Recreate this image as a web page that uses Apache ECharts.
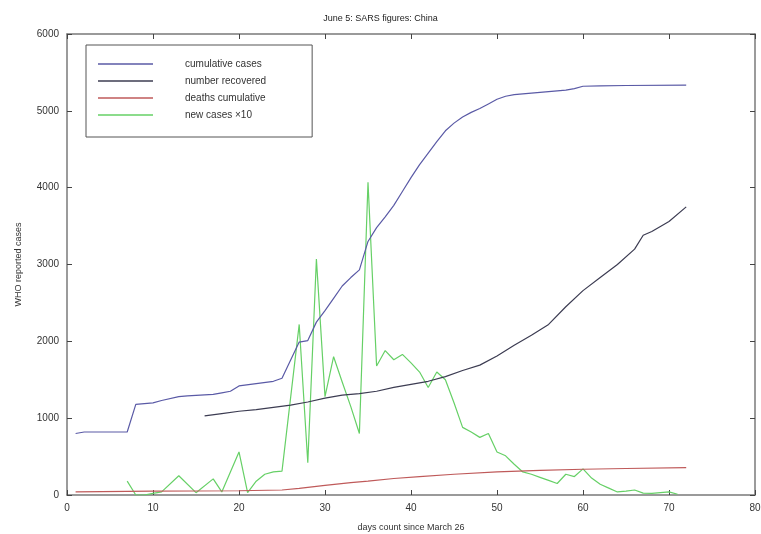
<!DOCTYPE html>
<html>
<head>
<meta charset="utf-8">
<script src="https://cdn.jsdelivr.net/npm/echarts@6/dist/echarts.min.js"></script>
<style>
html,body{margin:0;padding:0;background:#fff;}
#chart{width:761px;height:534px;}
</style>
</head>
<body>
<div id="chart"></div>
<script>
const titleText = "June 5: SARS figures: China";
const xAxisName = "days count since March 26";
const yAxisName = "WHO reported cases";
const seriesNames = ["cumulative cases", "number recovered", "deaths cumulative", "new cases x10"];

const casesDays = [1,2,7,8,10,11,13,14,17,18,19,20,22,24,25,27,28,29,30,31,32,33,34,35,36,37,38,39,40,41,42,43,44,45,46,47,48,49,50,51,52,54,56,58,59,60,62,65,72];
const casesVals = [800,820,820,1180,1200,1230,1280,1290,1310,1330,1350,1420,1450,1480,1520,1990,2010,2250,2400,2560,2720,2830,2930,3300,3480,3620,3770,3950,4130,4300,4450,4600,4740,4840,4920,4980,5030,5090,5150,5190,5210,5230,5250,5270,5290,5320,5325,5330,5335];

const recDays = [16,18,20,22,24,26,28,30,32,34,36,38,40,42,44,46,48,50,52,54,56,58,60,62,64,66,67,68,70,72];
const recVals = [1030,1060,1090,1110,1140,1170,1210,1260,1300,1320,1350,1400,1440,1480,1540,1620,1690,1810,1950,2080,2220,2450,2660,2830,3000,3200,3380,3430,3560,3750];

const deathDays = [1,10,20,25,27,30,33,35,38,41,45,50,55,60,65,72];
const deathVals = [40,50,55,65,85,125,160,180,215,240,270,300,320,335,345,355];

const newDays = [7,8,9,10,11,13,15,17,18,20,21,22,23,24,25,27,28,29,30,31,32,33,34,35,36,37,38,39,40,41,42,43,44,45,46,47,48,49,50,51,52,53,54,55,56,57,58,59,60,61,62,63,64,65,66,67,68,69,70,71];
const newVals = [180,0,0,20,40,250,30,210,40,560,30,180,270,300,310,2220,420,3070,1280,1800,1470,1150,800,4070,1680,1880,1760,1830,1720,1600,1400,1600,1500,1200,880,820,750,800,560,510,400,300,270,230,190,150,270,240,340,220,140,90,40,50,65,25,20,30,40,10];

const xTicks = {min:0, max:80, interval:10};
const yTicks = {min:0, max:6000, interval:1000};

function pairs(d, v){ return d.map((x,i)=>[x, v[i]]); }

const colors = ["#5a5aa6", "#3c3c52", "#bf5a5a", "#66d066"];
const font = "'Liberation Sans', Arial, sans-serif";
const frame = "#7a7a7a";

const chart = echarts.init(document.getElementById('chart'), null, {renderer:'canvas'});

function axisCommon(extra){
  return Object.assign({
    type:'value',
    splitLine:{show:false},
    axisLine:{show:true, onZero:false, lineStyle:{color:frame, width:1.5}},
    axisTick:{show:true, inside:true, length:5, lineStyle:{color:'#444', width:1}},
    axisLabel:{show:true, color:'#333', fontFamily:font, fontSize:10, formatter:function(v){ return String(v); }}
  }, extra);
}

const option = {
  backgroundColor:'#fff',
  animation:false,
  title:{
    text:titleText, left:'center', top:9,
    textStyle:{fontFamily:font, fontSize:9, fontWeight:'normal', color:'#222'}
  },
  grid:{left:67, right:6, top:34, bottom:39, containLabel:false, outerBoundsMode:'none'},
  legend:{
    orient:'vertical', left:86, top:45,
    data:seriesNames,
    icon:'rect', itemWidth:55, itemHeight:1.5, itemGap:5,
    padding:[13,46,16,12],
    borderColor:'#555', borderWidth:1, backgroundColor:'#fff',
    textStyle:{fontFamily:font, fontSize:10, color:'#333', lineHeight:12, padding:[0,0,0,27]},
    formatter:function(n){ return n === "new cases x10" ? "new cases \u00d710" : n; }
  },
  xAxis:[
    axisCommon({position:'bottom', min:xTicks.min, max:xTicks.max, interval:xTicks.interval,
      name:xAxisName, nameLocation:'middle', nameGap:28,
      nameTextStyle:{fontFamily:font, fontSize:9, color:'#333'}}),
    axisCommon({position:'top', min:xTicks.min, max:xTicks.max, interval:xTicks.interval,
      axisLabel:{show:false}})
  ],
  yAxis:[
    axisCommon({position:'left', min:yTicks.min, max:yTicks.max, interval:yTicks.interval,
      name:yAxisName, nameLocation:'middle', nameGap:44,
      nameTextStyle:{fontFamily:font, fontSize:9, color:'#333'}}),
    axisCommon({position:'right', min:yTicks.min, max:yTicks.max, interval:yTicks.interval,
      axisLabel:{show:false}})
  ],
  series:[
    {name:seriesNames[0], type:'line', data:pairs(casesDays, casesVals), showSymbol:false, lineStyle:{color:colors[0], width:1.2}, itemStyle:{color:colors[0]}, z:4},
    {name:seriesNames[1], type:'line', data:pairs(recDays, recVals), showSymbol:false, lineStyle:{color:colors[1], width:1.2}, itemStyle:{color:colors[1]}, z:4},
    {name:seriesNames[2], type:'line', data:pairs(deathDays, deathVals), showSymbol:false, lineStyle:{color:colors[2], width:1.2}, itemStyle:{color:colors[2]}, z:3},
    {name:seriesNames[3], type:'line', data:pairs(newDays, newVals), showSymbol:false, lineStyle:{color:colors[3], width:1.2}, itemStyle:{color:colors[3]}, z:2}
  ]
};
chart.setOption(option);
</script>
</body>
</html>
